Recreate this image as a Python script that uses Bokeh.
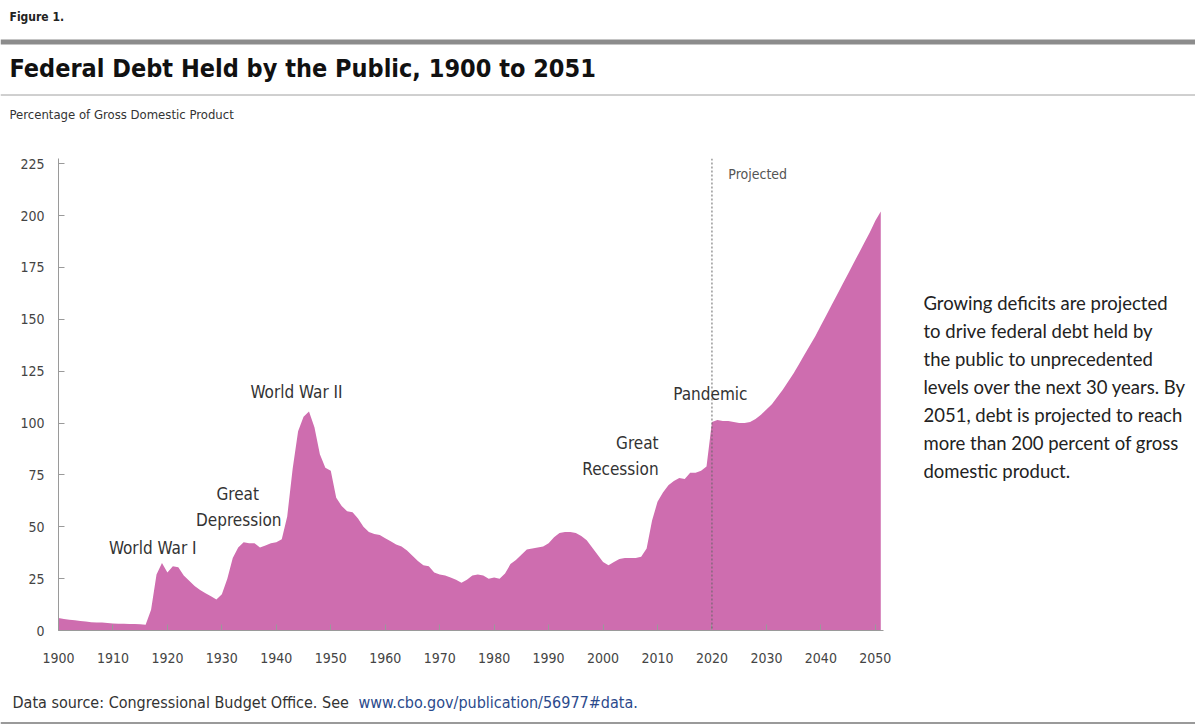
from bokeh.plotting import figure
from bokeh.models import Label, Span, ColumnDataSource, Range1d
from bokeh.layouts import column, row
from bokeh.embed import file_html
from bokeh.resources import INLINE

# ---------------- data ----------------
years = list(range(1900, 2052))
debt_pct = [
    6.0, 5.6, 5.2, 4.9, 4.6, 4.3, 4.0, 3.8, 3.8, 3.6,          # 1900-1909
    3.4, 3.3, 3.2, 3.1, 3.1, 3.0, 2.8, 10.0, 27.0, 32.5,       # 1910-1919
    28.0, 31.0, 30.5, 26.5, 24.0, 21.5, 19.5, 18.0, 16.5, 15.0,  # 1920-1929
    17.5, 25.0, 35.0, 40.0, 42.5, 42.0, 42.0, 40.0, 41.0, 42.0,  # 1930-1939
    42.5, 44.0, 55.0, 78.0, 96.0, 103.0, 105.5, 98.0, 85.0, 78.5,  # 1940-1949
    77.0, 64.0, 60.0, 57.5, 57.0, 54.0, 50.0, 47.5, 46.5, 46.0,  # 1950-1959
    44.5, 43.0, 41.5, 40.5, 38.5, 36.0, 33.5, 31.5, 31.0, 28.0,  # 1960-1969
    27.0, 26.5, 25.5, 24.5, 23.0, 24.5, 26.5, 27.0, 26.5, 25.0,  # 1970-1979
    25.5, 25.0, 27.5, 32.0, 34.0, 36.5, 39.0, 39.5, 40.0, 40.5,  # 1980-1989
    42.0, 45.0, 47.0, 47.5, 47.5, 47.0, 45.5, 43.5, 40.0, 36.5,  # 1990-1999
    33.0, 31.5, 33.0, 34.5, 35.0, 35.0, 35.0, 35.5, 39.5, 53.0,  # 2000-2009
    62.0, 66.5, 70.0, 72.0, 73.5, 73.0, 76.0, 76.0, 77.0, 79.0,  # 2010-2019
    100.5, 101.5, 101.0, 101.0, 100.5, 100.0, 100.0, 100.5, 102.0, 104.0,  # 2020-2029
    106.5, 109.0, 112.5, 116.0, 120.0, 124.0, 128.5, 133.0, 137.5, 142.0,  # 2030-2039
    147.0, 152.0, 157.0, 162.0, 167.0, 172.0, 177.0, 182.0, 187.0, 192.0,  # 2040-2049
    197.5, 202.0,                                                  # 2050-2051
]
x_ticks = [1900, 1910, 1920, 1930, 1940, 1950, 1960, 1970, 1980, 1990,
           2000, 2010, 2020, 2030, 2040, 2050]
y_ticks = [0, 25, 50, 75, 100, 125, 150, 175, 200, 225]
projection_start = 2020
event_labels = ["World War I", "Great", "Depression", "World War II",
                "Great", "Recession", "Pandemic"]
event_x = [1917.3, 1932.9, 1933.1, 1943.7, 2010.2, 2010.2, 2019.7]
event_y = [40.0, 65.8, 53.3, 115.0, 90.2, 77.8, 114.1]
event_align = ["center", "center", "center", "center", "right", "right", "center"]

title_text = "Federal Debt Held by the Public, 1900 to 2051"
figure_text = "Figure 1."
subtitle_text = "Percentage of Gross Domestic Product"
source_text = "Data source: Congressional Budget Office. See"
source_link = "www.cbo.gov/publication/56977#data."
side_note = [
    "Growing deficits are projected",
    "to drive federal debt held by",
    "the public to unprecedented",
    "levels over the next 30 years. By",
    "2051, debt is projected to reach",
    "more than 200 percent of gross",
    "domestic product.",
]

# ---------------- styling ----------------
NARROW = "'Liberation Sans Narrow', 'DejaVu Sans Condensed', Roboto, sans-serif"
BODY = "Lato, 'Open Sans', sans-serif"
AREA = "#CE6DAF"
TXT = "#333333"

TOTAL_W = 1195
HEAD_H, MAIN_H, FOOT_H = 140, 540, 44
MAIN_W = 900


def blank(w, h):
    f = figure(width=w, height=h, output_backend="svg", toolbar_location=None,
               x_range=Range1d(0, w), y_range=Range1d(h, 0), min_border=0,
               x_axis_location=None, y_axis_location=None)
    f.outline_line_color = None
    f.grid.grid_line_color = None
    f.background_fill_color = "white"
    f.border_fill_color = "white"
    return f


def put(f, text, x, y, size, font=NARROW, style="normal", color=TXT, align="left"):
    f.add_layout(Label(x=x, y=y, text=text, text_align=align, text_baseline="middle",
                       text_font=font, text_font_size=size, text_font_style=style,
                       text_color=color))


# ---------------- header ----------------
head = blank(TOTAL_W, HEAD_H)
put(head, figure_text, 9, 16, "12px", style="bold", color="#222222")
head.add_layout(Span(location=41.5, dimension="width", line_color="#8c8c8c", line_width=5))
put(head, title_text, 9, 68, "25px", style="bold", color="#111111")
head.add_layout(Span(location=94.5, dimension="width", line_color="#a0a0a0", line_width=1))
put(head, subtitle_text, 9, 114, "13px", color="#333333")

# ---------------- main chart ----------------
FRAME_TOP = 158 - HEAD_H
FRAME_H = 472
p = figure(width=MAIN_W, height=MAIN_H, output_backend="svg", toolbar_location=None,
           x_range=Range1d(1900, 2051.5), y_range=Range1d(0, 227.5),
           min_border_left=58, min_border_right=MAIN_W - 883,
           min_border_top=FRAME_TOP, min_border_bottom=MAIN_H - FRAME_TOP - FRAME_H)
p.outline_line_color = None
p.grid.grid_line_color = None
p.background_fill_color = "white"
p.border_fill_color = "white"

src = ColumnDataSource(dict(year=years, debt=debt_pct))
p.varea(x="year", y1=0, y2="debt", source=src, fill_color=AREA)

p.add_layout(Span(location=projection_start, dimension="height",
                  line_color="#666666", line_dash="2 2", line_width=1))

for ax in (p.xaxis[0], p.yaxis[0]):
    ax.major_tick_in = 6
    ax.major_tick_out = 0
    ax.minor_tick_line_color = None
    ax.axis_line_color = "#9a9a9a"
    ax.major_tick_line_color = "#9a9a9a"
    ax.major_label_text_font = NARROW
    ax.major_label_text_font_size = "14px"
    ax.major_label_text_color = "#444444"
p.xaxis.ticker = x_ticks
p.yaxis.ticker = y_ticks
p.xaxis.major_label_standoff = 22
p.yaxis.major_label_standoff = 14

for t, x, y, a in zip(event_labels, event_x, event_y, event_align):
    p.add_layout(Label(x=x, y=y, text=t, text_align=a, text_baseline="middle",
                       text_font=NARROW, text_font_size="17px", text_color=TXT))
p.add_layout(Label(x=projection_start + 3.0, y=219.9, text="Projected",
                   text_align="left", text_baseline="middle",
                   text_font=NARROW, text_font_size="14px", text_color="#555555"))

# ---------------- side note ----------------
note = blank(TOTAL_W - MAIN_W, MAIN_H)
for i, line in enumerate(side_note):
    put(note, line, 23, 165 + 32 * i, "18.5px", font=BODY, color="#222222")

# ---------------- footer ----------------
foot = blank(TOTAL_W, FOOT_H)
put(foot, source_text, 12, 22, "16px", color="#333333")
put(foot, source_link, 358, 22, "16px", color="#2b4a8c")
foot.add_layout(Span(location=42.5, dimension="width", line_color="#9a9a9a", line_width=2))

layout = column(head, row(p, note), foot)
open("out.html", "w").write(file_html(layout, INLINE))
